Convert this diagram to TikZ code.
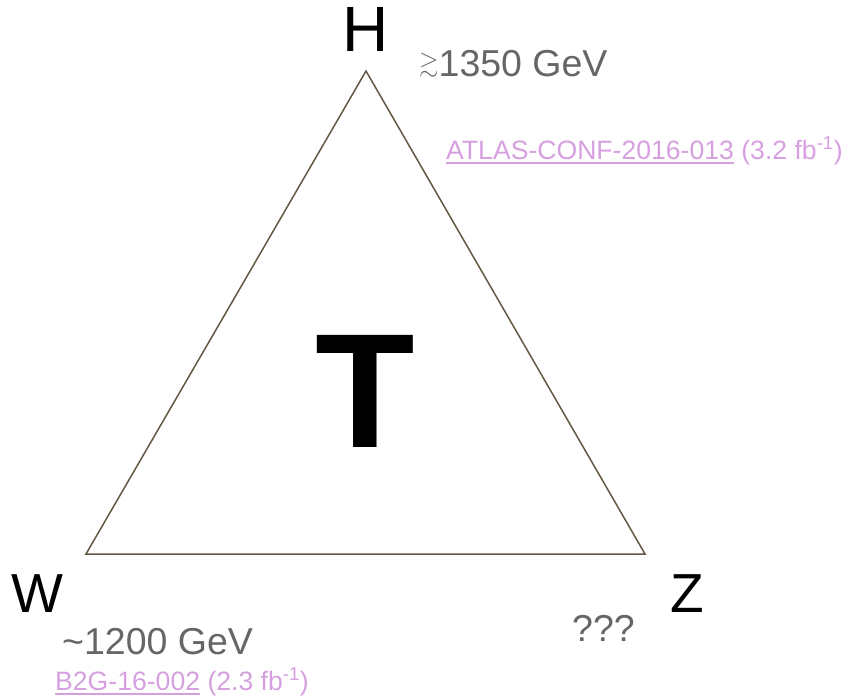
\documentclass[tikz,border=0pt]{standalone}
\usepackage{fontspec}
\setmainfont{Liberation Sans}
\usepackage{amssymb}
\definecolor{limgray}{RGB}{102,102,102}
\definecolor{refviolet}{RGB}{214,160,224}
\definecolor{edgebrown}{RGB}{100,88,68}

\begin{document}
\begin{tikzpicture}[x=1pt,y=-1pt,
  corner/.style={inner sep=0,anchor=base west,font=\fontsize{55}{60}\selectfont},
  limit/.style={inner sep=0,anchor=base west,text=limgray,font=\fontsize{37.5}{40}\selectfont},
  ref/.style={inner sep=0,anchor=base west,text=refviolet,font=\fontsize{26.6}{28}\selectfont}]
\useasboundingbox (0,0) rectangle (845,697);
% triangle corners
\coordinate (top) at (366,71);
\coordinate (left) at (86,554);
\coordinate (right) at (645,554);
\draw[edgebrown,line width=1.5pt] (top)--(left)--(right)--cycle;
\node[inner sep=0,anchor=base,font=\fontsize{64}{70}\selectfont] (H) at (366,51) {H};
\node[corner] (W) at (11,612) {W};
\node[corner] (Z) at (670,612) {Z};
\node[inner sep=0,anchor=base,font=\bfseries\fontsize{163}{170}\selectfont] (T) at (365,447) {T};
% limits
\node[limit] (hlim) at (419,76) {\raisebox{5pt}{\fontsize{25}{28}\selectfont$\gtrsim$}1350 GeV};
\node[ref] (href) at (446,159) {\underline{ATLAS-CONF-2016-013} (3.2 fb\textsuperscript{-1})};
\node[limit] (wlim) at (62,654) {\textasciitilde1200 GeV};
\node[ref] (wref) at (55,690) {\underline{B2G-16-002} (2.3 fb\textsuperscript{-1})};
\node[limit] (zlim) at (572,641) {???};
\end{tikzpicture}
\end{document}
